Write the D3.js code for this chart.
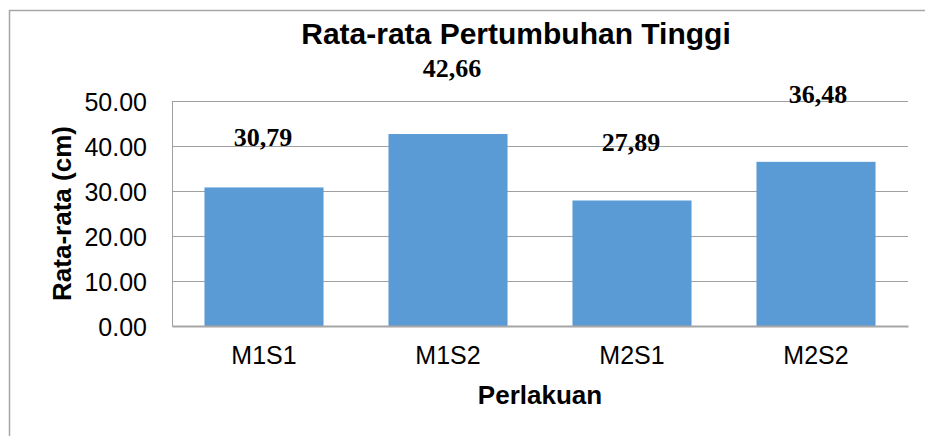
<!DOCTYPE html>
<html>
<head>
<meta charset="utf-8">
<script src="https://cdn.jsdelivr.net/npm/d3@7/dist/d3.min.js"></script>
<style>
html,body{margin:0;padding:0;background:#fff;}
svg{display:block;}
</style>
</head>
<body>
<svg id="chart" width="925" height="436"></svg>
<script>
const categories = ["M1S1", "M1S2", "M2S1", "M2S2"];
const values = [30.79, 42.66, 27.89, 36.48];
const valueLabels = ["30,79", "42,66", "27,89", "36,48"];
const yTicks = [0, 10, 20, 30, 40, 50];
const chartTitle = "Rata-rata Pertumbuhan Tinggi";
const xTitle = "Perlakuan";
const yTitle = "Rata-rata (cm)";

const svg = d3.select("#chart");
const W = 925, H = 436;
const m = {left: 172, right: 908, top: 101, bottom: 326};

svg.append("rect").attr("x", 0).attr("y", 0).attr("width", W).attr("height", H).attr("fill", "#fff");
// outer chart border (extends beyond the right/bottom edges)
svg.append("rect").attr("x", 9.5).attr("y", 10.5).attr("width", 960).attr("height", 480)
  .attr("fill", "none").attr("stroke", "#a6a6a6").attr("stroke-width", 1.5);

const x = d3.scaleBand().domain(categories).range([m.left, m.right])
  .paddingInner(0.353).paddingOuter(0.1765);
const y = d3.scaleLinear().domain([0, 50]).range([m.bottom, m.top]);

// gridlines
svg.append("g").selectAll("line").data(yTicks.filter(d => d > 0)).join("line")
  .attr("x1", m.left).attr("x2", m.right)
  .attr("y1", d => Math.round(y(d)) + 0.5).attr("y2", d => Math.round(y(d)) + 0.5)
  .attr("stroke", "#a0a0a0").attr("stroke-width", 1);

// y axis
const yAxis = d3.axisLeft(y).tickValues(yTicks).tickFormat(d3.format(".2f")).tickSize(0).tickPadding(25);
const gy = svg.append("g").attr("transform", `translate(${m.left},0)`).call(yAxis);
gy.select(".domain").attr("stroke", "#a0a0a0").attr("stroke-width", 1);
gy.selectAll("text").attr("font-family", "Liberation Sans, Arial, sans-serif")
  .attr("font-size", 25).attr("fill", "#000").attr("dy", "0.36em");

// bars
svg.append("g").selectAll("rect").data(values).join("rect")
  .attr("x", (d, i) => x(categories[i]))
  .attr("y", d => y(d))
  .attr("width", x.bandwidth())
  .attr("height", d => y(0) - y(d))
  .attr("fill", "#5B9BD5");

// x axis
const xAxis = d3.axisBottom(x).tickSize(0).tickPadding(20);
const gx = svg.append("g").attr("transform", `translate(0,${m.bottom})`).call(xAxis);
gx.select(".domain").attr("stroke", "#a6a6a6").attr("stroke-width", 2);
gx.selectAll("text").attr("font-family", "Liberation Sans, Arial, sans-serif")
  .attr("font-size", 25).attr("fill", "#000").attr("dy", "0.71em");

// value labels (manually placed in the original)
const labelDx = [-1, 4, -1, 2];
const labelBase = [146, 77, 151, 103];
svg.append("g").selectAll("text").data(valueLabels).join("text")
  .attr("x", (d, i) => x(categories[i]) + x.bandwidth() / 2 + labelDx[i])
  .attr("y", (d, i) => labelBase[i])
  .attr("text-anchor", "middle")
  .attr("font-family", "Liberation Serif, Times New Roman, serif")
  .attr("font-weight", "bold").attr("font-size", 26).attr("fill", "#000")
  .text(d => d);

// title
svg.append("text").attr("x", 516).attr("y", 44).attr("text-anchor", "middle")
  .attr("font-family", "Liberation Sans, Arial, sans-serif").attr("font-weight", "bold")
  .attr("font-size", 30).attr("fill", "#000").text(chartTitle);

// x title
svg.append("text").attr("x", 540).attr("y", 404).attr("text-anchor", "middle")
  .attr("font-family", "Liberation Sans, Arial, sans-serif").attr("font-weight", "bold")
  .attr("font-size", 26).attr("fill", "#000").text(xTitle);

// y title
svg.append("text").attr("transform", `translate(71,${(m.top + m.bottom) / 2}) rotate(-90)`)
  .attr("text-anchor", "middle")
  .attr("font-family", "Liberation Sans, Arial, sans-serif").attr("font-weight", "bold")
  .attr("font-size", 26).attr("fill", "#000").text(yTitle);
</script>
</body>
</html>
